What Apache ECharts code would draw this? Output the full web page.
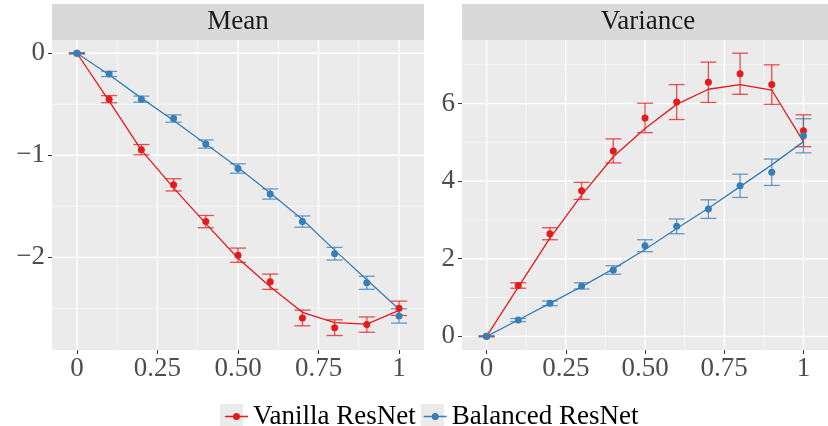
<!DOCTYPE html>
<html>
<head>
<meta charset="utf-8">
<script src="https://cdn.jsdelivr.net/npm/echarts@6/dist/echarts.min.js"></script>
<style>
html,body{margin:0;padding:0;background:#fff;}
#c{width:828px;height:426px;}
</style>
</head>
<body>
<div id="c"></div>
<script>
// ---- data ----
const xs = [0, 0.1, 0.2, 0.3, 0.4, 0.5, 0.6, 0.7, 0.8, 0.9, 1.0];
const xTicks = [0, 0.25, 0.5, 0.75, 1];
const xTickLabels = ['0', '0.25', '0.50', '0.75', '1'];
const xMinor = [0.125, 0.375, 0.625, 0.875];

const meanTicks = [0, -1, -2];
const meanMinor = [-0.5, -1.5, -2.5];
const varTicks = [0, 2, 4, 6];
const varMinor = [1, 3, 5, 7];

const meanVanilla    = [0, -0.45, -0.945, -1.29, -1.65, -1.98, -2.24, -2.595, -2.69, -2.66, -2.50];
const meanVanillaErr = [0.005, 0.035, 0.05, 0.06, 0.06, 0.07, 0.075, 0.077, 0.077, 0.075, 0.07];
const meanVanillaFit = [0, -0.47, -0.95, -1.32, -1.67, -2.01, -2.29, -2.54, -2.64, -2.655, -2.52];

const meanBalanced    = [0, -0.203, -0.45, -0.64, -0.89, -1.13, -1.38, -1.65, -1.965, -2.25, -2.575];
const meanBalancedErr = [0.005, 0.025, 0.03, 0.036, 0.04, 0.046, 0.05, 0.055, 0.062, 0.064, 0.07];
const meanBalancedFit = [0, -0.21, -0.44, -0.66, -0.89, -1.12, -1.37, -1.63, -1.93, -2.22, -2.51];

const varVanilla    = [0, 1.31, 2.645, 3.75, 4.78, 5.63, 6.04, 6.55, 6.77, 6.49, 5.30];
const varVanillaErr = [0.01, 0.07, 0.155, 0.22, 0.31, 0.38, 0.45, 0.52, 0.53, 0.51, 0.41];
const varVanillaFit = [0, 1.27, 2.53, 3.64, 4.63, 5.36, 5.98, 6.37, 6.49, 6.35, 5.02];

const varBalanced    = [0, 0.42, 0.85, 1.30, 1.71, 2.335, 2.835, 3.28, 3.88, 4.23, 5.17];
const varBalancedErr = [0.01, 0.04, 0.06, 0.08, 0.11, 0.155, 0.19, 0.24, 0.30, 0.34, 0.44];
const varBalancedFit = [0, 0.42, 0.85, 1.28, 1.74, 2.24, 2.78, 3.30, 3.86, 4.42, 5.02];

const panelTitles = ['Mean', 'Variance'];
const seriesNames = ['Vanilla ResNet', 'Balanced ResNet'];

// ---- style ----
const RED = '#E41A1C', BLUE = '#377EB8';
const FONT = "'Liberation Serif', serif";
const XMIN = -0.0775, XMAX = 1.0775;
const CAP = 0.025;
const KEY_ICON = 'path://M0,3 L23,3 L23,4.3 L0,4.3 Z M15,3.65 A3.5,3.5 0 1 1 8,3.65 A3.5,3.5 0 1 1 15,3.65 Z';

const pairs = (ys) => xs.map((x, i) => [x, ys[i]]);
const triples = (ys, es) => xs.map((x, i) => [x, ys[i], es[i]]);
const fmtNum = (v) => v < 0 ? '\u2212' + Math.abs(v) : String(v);

function gridSeries(idx, values, vertical, width) {
  return {
    type: 'custom', xAxisIndex: idx, yAxisIndex: idx, silent: true, z: 1,
    data: values.map(v => [v]),
    encode: vertical ? {x: 0} : {y: 0},
    renderItem: function (params, api) {
      const cs = params.coordSys;
      const v = api.value(0);
      let shape;
      if (vertical) {
        const p = api.coord([v, 0]);
        shape = {x1: p[0], y1: cs.y, x2: p[0], y2: cs.y + cs.height};
      } else {
        const p = api.coord([0, v]);
        shape = {x1: cs.x, y1: p[1], x2: cs.x + cs.width, y2: p[1]};
      }
      return {type: 'line', shape: shape, style: {stroke: '#FFFFFF', lineWidth: width}};
    }
  };
}

function errSeries(idx, name, ys, es, color) {
  return {
    type: 'custom', name: name, xAxisIndex: idx, yAxisIndex: idx, z: 3, silent: true,
    data: triples(ys, es),
    encode: {x: 0, y: 1},
    renderItem: function (params, api) {
      const x = api.value(0), y = api.value(1), e = api.value(2);
      const t = api.coord([x, y + e]), b = api.coord([x, y - e]);
      const l = api.coord([x - CAP, y]), r = api.coord([x + CAP, y]);
      const st = {stroke: color, lineWidth: 1.3, opacity: 0.75};
      return {type: 'group', children: [
        {type: 'line', shape: {x1: t[0], y1: t[1], x2: b[0], y2: b[1]}, style: st},
        {type: 'line', shape: {x1: l[0], y1: t[1], x2: r[0], y2: t[1]}, style: st},
        {type: 'line', shape: {x1: l[0], y1: b[1], x2: r[0], y2: b[1]}, style: st}
      ]};
    }
  };
}

function lineSeries(idx, name, ys, color) {
  return {
    type: 'line', name: name, xAxisIndex: idx, yAxisIndex: idx, z: 2,
    data: pairs(ys), showSymbol: false, symbol: 'circle', symbolSize: 7,
    lineStyle: {color: color, width: 1.3}, itemStyle: {color: color},
    silent: true, animation: false
  };
}

function pointSeries(idx, name, ys, color) {
  return {
    type: 'scatter', name: name, xAxisIndex: idx, yAxisIndex: idx, z: 4,
    data: pairs(ys), symbol: 'circle', symbolSize: 7,
    itemStyle: {color: color, opacity: 1}, silent: true
  };
}

function xAxis(idx) {
  return {
    type: 'value', gridIndex: idx, min: XMIN, max: XMAX, position: 'bottom',
    axisLine: {show: false, onZero: false},
    splitLine: {show: false},
    axisTick: {show: true, length: 4, customValues: xTicks, lineStyle: {color: '#333333', width: 1}},
    axisLabel: {
      show: true, customValues: xTicks, margin: 5,
      formatter: (v) => xTickLabels[xTicks.indexOf(v)] !== undefined ? xTickLabels[xTicks.indexOf(v)] : '',
      fontFamily: FONT, fontSize: 27, color: '#4D4D4D'
    }
  };
}

function yAxis(idx, min, max, ticks) {
  return {
    type: 'value', gridIndex: idx, min: min, max: max, position: 'left',
    axisLine: {show: false, onZero: false},
    splitLine: {show: false},
    axisTick: {show: true, length: 4, customValues: ticks, lineStyle: {color: '#333333', width: 1}},
    axisLabel: {
      show: true, customValues: ticks, margin: 7,
      formatter: fmtNum,
      fontFamily: FONT, fontSize: 27, color: '#4D4D4D'
    }
  };
}

const panels = [
  {left: 52, width: 372},
  {left: 462, width: 372}
];

const option = {
  animation: false,
  backgroundColor: '#FFFFFF',
  grid: panels.map(p => ({
    left: p.left, top: 40, width: p.width, height: 310,
    show: true, backgroundColor: '#EBEBEB', borderWidth: 0, containLabel: false
  })),
  xAxis: [xAxis(0), xAxis(1)],
  yAxis: [yAxis(0, -2.909, 0.13, meanTicks), yAxis(1, -0.353, 7.64, varTicks)],
  legend: {
    data: seriesNames.map(n => ({name: n, icon: KEY_ICON})),
    left: 220, top: 398, itemWidth: 23, itemHeight: 7, itemGap: 8,
    selectedMode: false,
    textStyle: {fontFamily: FONT, fontSize: 27, color: '#000000'}
  },
  graphic: [
    {type: 'rect', shape: {x: 52, y: 4, width: 372, height: 36}, style: {fill: '#D9D9D9'}, silent: true, z: -1},
    {type: 'rect', shape: {x: 462, y: 4, width: 372, height: 36}, style: {fill: '#D9D9D9'}, silent: true, z: -1},
    {type: 'text', x: 238, y: 22, style: {text: panelTitles[0], font: "27px 'Liberation Serif', serif", fill: '#1A1A1A', textAlign: 'center', textVerticalAlign: 'middle'}, silent: true},
    {type: 'text', x: 648, y: 22, style: {text: panelTitles[1], font: "27px 'Liberation Serif', serif", fill: '#1A1A1A', textAlign: 'center', textVerticalAlign: 'middle'}, silent: true},
    {type: 'rect', shape: {x: 220, y: 404, width: 23, height: 23}, style: {fill: '#EBEBEB'}, silent: true, z: -1},
    {type: 'rect', shape: {x: 421, y: 404, width: 23, height: 23}, style: {fill: '#EBEBEB'}, silent: true, z: -1}
  ],
  series: [
    lineSeries(0, seriesNames[0], meanVanillaFit, RED),
    lineSeries(0, seriesNames[1], meanBalancedFit, BLUE),
    gridSeries(0, xMinor, true, 0.6),
    gridSeries(0, meanMinor, false, 0.6),
    gridSeries(0, xTicks, true, 1.3),
    gridSeries(0, meanTicks, false, 1.3),
    gridSeries(1, xMinor, true, 0.6),
    gridSeries(1, varMinor, false, 0.6),
    gridSeries(1, xTicks, true, 1.3),
    gridSeries(1, varTicks, false, 1.3),
    errSeries(0, seriesNames[0], meanVanilla, meanVanillaErr, RED),
    errSeries(0, seriesNames[1], meanBalanced, meanBalancedErr, BLUE),
    pointSeries(0, seriesNames[0], meanVanilla, RED),
    pointSeries(0, seriesNames[1], meanBalanced, BLUE),
    lineSeries(1, seriesNames[0], varVanillaFit, RED),
    lineSeries(1, seriesNames[1], varBalancedFit, BLUE),
    errSeries(1, seriesNames[0], varVanilla, varVanillaErr, RED),
    errSeries(1, seriesNames[1], varBalanced, varBalancedErr, BLUE),
    pointSeries(1, seriesNames[0], varVanilla, RED),
    pointSeries(1, seriesNames[1], varBalanced, BLUE)
  ]
};

const chart = echarts.init(document.getElementById('c'), null, {renderer: 'canvas'});
chart.setOption(option);
</script>
</body>
</html>
